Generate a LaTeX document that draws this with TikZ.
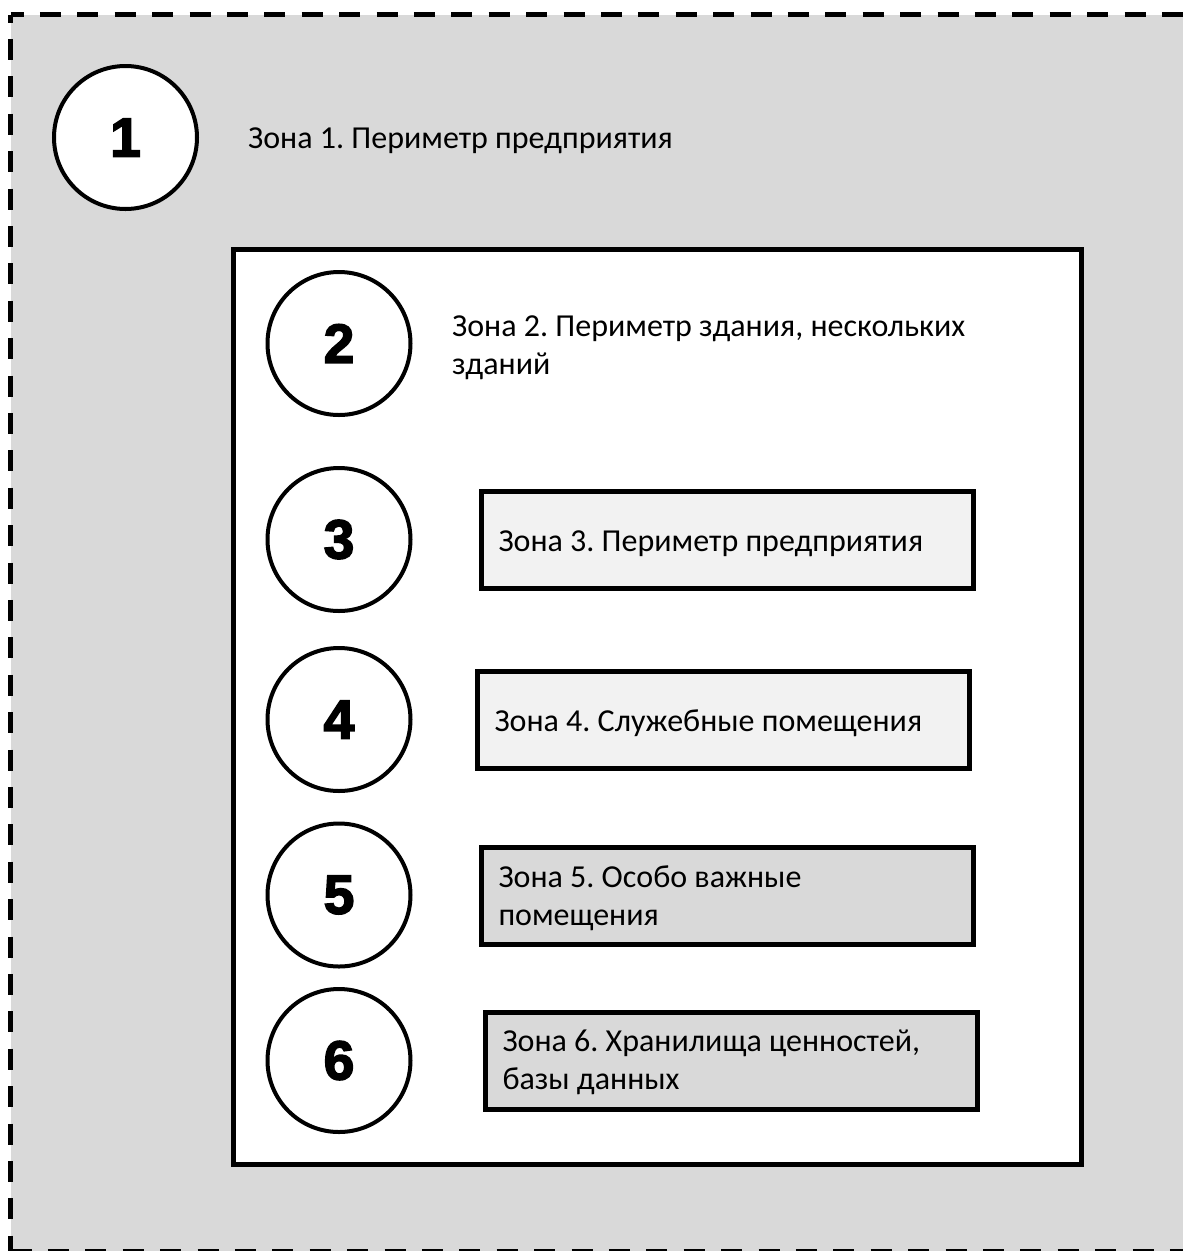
\documentclass[tikz,border=0pt]{standalone}
\usepackage{fontspec}
\setmainfont{Carlito}
\newfontface\numfont{Liberation Sans Bold}[FakeBold=3]
\definecolor{bggray}{HTML}{D9D9D9}
\definecolor{lightbox}{HTML}{F2F2F2}
\frenchspacing
\begin{document}
\begin{tikzpicture}[x=1pt,y=-1pt,
  num/.style={circle,draw=black,line width=4pt,fill=white,minimum size=143pt,inner sep=0pt,
    font=\numfont\fontsize{55}{55}\selectfont},
  zonebox/.style={rectangle,draw=black,line width=5pt,anchor=west,minimum width=492pt,
    minimum height=97pt,text width=458pt,inner xsep=17pt,inner ysep=0pt,align=flush left,
    text height=24pt,font=\fontsize{32}{38}\selectfont},
  oneline/.style={text depth=1pt},
  twoline/.style={text depth=42pt},
  ztext/.style={anchor=base west,inner sep=0pt,align=flush left,font=\fontsize{32}{38}\selectfont},
  border/.style={line width=5pt,dash pattern=on 21pt off 16.4pt}
]
\useasboundingbox (0,0) rectangle (1183,1251);
\fill[bggray] (11,14.5) rectangle (1183,1251);
\draw[border,dash phase=8pt] (10.5,14.5) -- (1183,14.5);
\draw[border,dash phase=13pt] (10.5,14.5) -- (10.5,1251);
\draw[border,dash phase=0pt] (10.5,1251) -- (1183,1251);

\node[num] (c1) at (125.5,137.5) {1};
\node[ztext] (t1) at (248,148) {Зона 1. Периметр предприятия};

\node (building) [draw=black,fill=white,line width=5pt,minimum width=848pt,minimum height=915pt,
  anchor=north west,inner sep=0pt] at (231,247) {};

\node[num] (c2) at (339,343.5) {2};
\node[ztext] (t2) at (452,374) {Зона 2. Периметр здания, нескольких\\зданий};

\node[num] (c3) at (339,539.5) {3};
\node[zonebox,oneline,fill=lightbox] (z3) at (479,539.5) {Зона 3. Периметр предприятия};

\node[num] (c4) at (339,719.5) {4};
\node[zonebox,oneline,fill=lightbox] (z4) at (475,719.5) {Зона 4. Служебные помещения};

\node[num] (c5) at (339,895) {5};
\node[zonebox,twoline,fill=bggray] (z5) at (479,896) {Зона 5. Особо важные\\помещения};

\node[num] (c6) at (339,1060.5) {6};
\node[zonebox,twoline,fill=bggray] (z6) at (483,1060.5) {Зона 6. Хранилища ценностей,\\базы данных};
\end{tikzpicture}
\end{document}
